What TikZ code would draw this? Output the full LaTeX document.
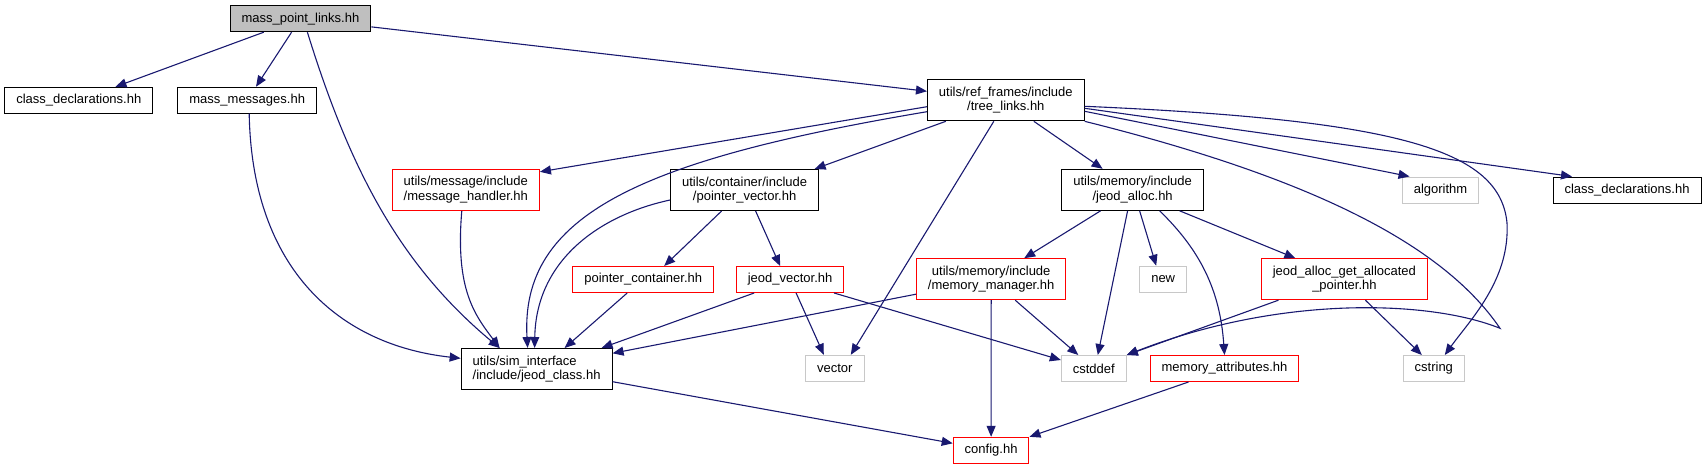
\documentclass[tikz,border=0pt]{standalone}
\usepackage{fontspec}
\setmainfont{Liberation Sans}
\definecolor{depblue}{RGB}{25,25,112}
\definecolor{rootgray}{RGB}{191,191,191}
\definecolor{sysgray}{RGB}{200,200,200}
\definecolor{truncred}{RGB}{255,0,0}
\usetikzlibrary{shapes,arrows.meta,positioning,calc}

\begin{document}
\begin{tikzpicture}[x=1pt,y=-1pt,
    filebox/.style={draw=black, fill=white, line width=1pt, inner xsep=11.5pt, inner ysep=0pt,
      minimum height=26pt, font=\fontsize{13}{14.5}\selectfont},
    rootbox/.style={filebox, fill=rootgray},
    redbox/.style={filebox, draw=truncred},
    sysbox/.style={filebox, draw=sysgray},
    twoline/.style={align=center, minimum height=41pt},
    dep/.style={draw=depblue, line width=1.1pt, -{Triangle[length=11pt,width=9pt]}}]

\useasboundingbox (0,0) rectangle (1707,469);

\node[rootbox] (root) at (300.4,18.7) {mass\_point\_links.hh};
\node[filebox] (cdl) at (78.8,100.3) {class\_declarations.hh};
\node[filebox] (massmsg) at (247.2,100.2) {mass\_messages.hh};
\node[filebox, twoline] (treelinks) at (1005.8,100.3) {utils/ref\_frames/include\\/tree\_links.hh};
\node[redbox, twoline] (msghandler) at (465.8,189.8) {utils/message/include\\/message\_handler.hh};
\node[filebox, twoline] (ptrvector) at (744.6,190) {utils/container/include\\/pointer\_vector.hh};
\node[filebox, twoline] (jeodalloc) at (1132.6,189.8) {utils/memory/include\\/jeod\_alloc.hh};
\node[sysbox] (algorithm) at (1440.5,190) {algorithm};
\node[filebox] (cdr) at (1627,190) {class\_declarations.hh};
\node[redbox] (ptrcontainer) at (643.2,279.5) {pointer\_container.hh};
\node[redbox] (jeodvector) at (790.1,279.5) {jeod\_vector.hh};
\node[redbox, twoline] (memmanager) at (991.2,279.2) {utils/memory/include\\/memory\_manager.hh};
\node[sysbox] (new) at (1163.2,279.2) {new};
\node[redbox, twoline] (allocptr) at (1344.4,279.2) {jeod\_alloc\_get\_allocated\\\_pointer.hh};
\node[filebox, twoline, align=left] (jeodclass) at (536.6,369) {utils/sim\_interface\\/include/jeod\_class.hh};
\node[sysbox] (vector) at (834.8,368.3) {vector};
\node[sysbox] (cstddef) at (1093.8,368.5) {cstddef};
\node[redbox] (memattr) at (1224.5,368.5) {memory\_attributes.hh};
\node[sysbox] (cstring) at (1433.8,368.5) {cstring};
\node[redbox] (config) at (991.1,450.3) {config.hh};
\coordinate (bend) at (1500,328.3);

\draw[dep] (root) -- (cdl);
\draw[dep] (root) -- (massmsg);
\draw[dep] ([xshift=7pt]root.south) .. controls (350,170) and (400,265) .. ([xshift=-37pt]jeodclass.north);
\draw[dep] (root) -- (treelinks);
\draw[dep] ([xshift=2pt]massmsg.south) .. controls (252,270) and (340,345) .. ([yshift=10.7pt]jeodclass.west);

\draw[dep] ([yshift=-6.4pt]treelinks.west) -- ([yshift=18pt]msghandler.east);
\draw[dep] ([yshift=-11.4pt]treelinks.west) .. controls (640,160) and (520,215) .. ([xshift=-9pt]jeodclass.north);
\draw[dep] ([xshift=-60pt]treelinks.south) -- ([xshift=70pt]ptrvector.north);
\draw[dep] ([xshift=-12pt]treelinks.south) -- ([xshift=16pt]vector.north);
\draw[dep] ([xshift=28pt]treelinks.south) -- ([xshift=-30pt]jeodalloc.north);
\draw[dep] (treelinks.south east) .. controls (1300,175) and (1440,240) .. (bend)
  .. controls (1430,300) and (1280,295) .. (cstddef.north east);
\draw[dep] ([yshift=-11pt]treelinks.east) -- ([xshift=-31pt]algorithm.north);
\draw[dep] ([yshift=-6pt]treelinks.east) .. controls (1400,120) and (1500,150) .. (1507,223)
  .. controls (1510,280) and (1470,320) .. ([xshift=11pt]cstring.north);
\draw[dep] ([yshift=-8pt]treelinks.east) -- ([xshift=-55pt]cdr.north);

\draw[dep] ([xshift=-4pt]msghandler.south) .. controls (455,290) and (475,315) .. ([xshift=-37pt]jeodclass.north);

\draw[dep] ([yshift=-10pt]ptrvector.west) .. controls (600,215) and (536,260) .. ([xshift=-2pt]jeodclass.north);
\draw[dep] ([xshift=-23pt]ptrvector.south) -- ([xshift=21pt]ptrcontainer.north);
\draw[dep] ([xshift=11pt]ptrvector.south) -- ([xshift=-10pt]jeodvector.north);

\draw[dep] ([xshift=-16pt]ptrcontainer.south) -- ([xshift=28pt]jeodclass.north);
\draw[dep] ([xshift=-36pt]jeodvector.south) -- ([xshift=-11pt]jeodclass.north east);
\draw[dep] ([xshift=6pt]jeodvector.south) -- ([xshift=-11pt]vector.north);
\draw[dep] ([xshift=44pt]jeodvector.south) -- ([yshift=8.5pt]cstddef.west);

\draw[dep] ([xshift=-32pt]jeodalloc.south) -- ([xshift=33pt]memmanager.north);
\draw[dep] ([xshift=-5pt]jeodalloc.south) -- ([xshift=4pt]cstddef.north);
\draw[dep] ([xshift=7pt]jeodalloc.south) -- ([xshift=-7pt]new.north);
\draw[dep] ([xshift=27pt]jeodalloc.south) .. controls (1200,250) and (1220,290) .. (memattr.north);
\draw[dep] ([xshift=47pt]jeodalloc.south) -- ([xshift=-49pt]allocptr.north);

\draw[dep] ([yshift=-15pt]memmanager.west) -- ([yshift=15.7pt]jeodclass.east);
\draw[dep] (memmanager) -- (config);
\draw[dep] ([xshift=24pt]memmanager.south) -- ([xshift=-15.5pt]cstddef.north);

\draw[dep] ([xshift=-66pt]allocptr.south) -- (cstddef.north east);
\draw[dep] ([xshift=21pt]allocptr.south) -- ([xshift=-12pt]cstring.north);

\draw[dep] ([yshift=-12.7pt]jeodclass.east) -- ([yshift=7pt]config.west);
\draw[dep] ([xshift=-36pt]memattr.south) -- (config.north east);
\end{tikzpicture}
\end{document}
